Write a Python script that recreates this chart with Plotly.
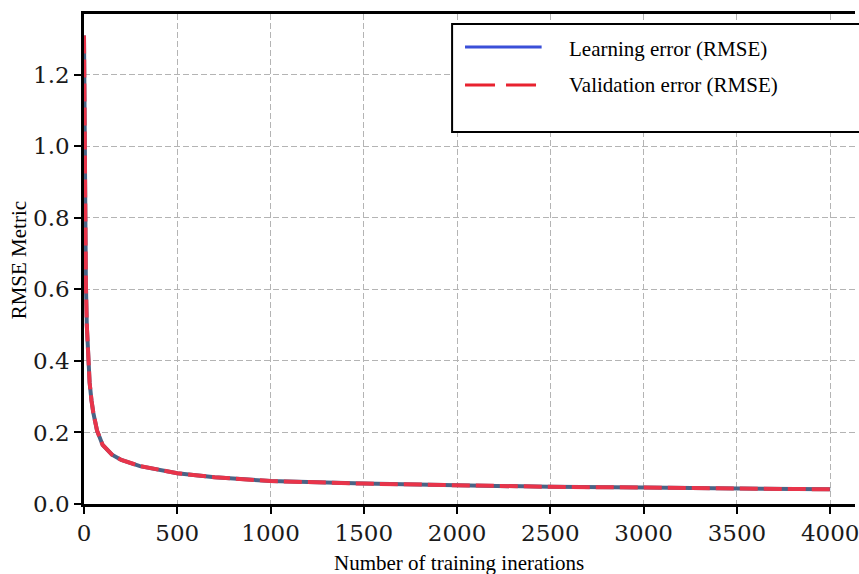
import plotly.graph_objects as go

# Data
iterations = [0, 3, 6, 10, 15, 20, 30, 40, 50, 70, 100, 150, 200, 300, 400, 500,
              700, 1000, 1500, 2000, 2500, 3000, 3500, 4000]
learning_rmse = [1.31, 1.0, 0.8, 0.62, 0.5, 0.42, 0.34, 0.29, 0.255, 0.205, 0.165,
                 0.138, 0.123, 0.106, 0.095, 0.086, 0.075, 0.064, 0.057, 0.052,
                 0.048, 0.046, 0.043, 0.041]
validation_rmse = [1.31, 1.0, 0.8, 0.62, 0.5, 0.42, 0.34, 0.29, 0.255, 0.205, 0.165,
                   0.138, 0.123, 0.106, 0.095, 0.086, 0.075, 0.064, 0.057, 0.052,
                   0.048, 0.046, 0.043, 0.041]
x_ticks = [0, 500, 1000, 1500, 2000, 2500, 3000, 3500, 4000]
y_ticks = [0.0, 0.2, 0.4, 0.6, 0.8, 1.0, 1.2]
y_tick_labels = ["0.0", "0.2", "0.4", "0.6", "0.8", "1.0", "1.2"]
series_names = ["Learning error (RMSE)", "Validation error (RMSE)"]

W, H = 859, 574
L, R, T, B = 84, 0, 14, 70
PW, PH = W - L - R, H - T - B


def px(x):
    return (x - L) / PW


def py(y):
    return (H - B - y) / PH


fig = go.Figure()
fig.add_trace(go.Scatter(x=iterations, y=learning_rmse, mode="lines",
                         line=dict(color="#4b6385", width=4),
                         name=series_names[0], showlegend=False))
fig.add_trace(go.Scatter(x=iterations, y=validation_rmse, mode="lines",
                         line=dict(color="#e8344a", width=4, dash="18px,6px"),
                         name=series_names[1], showlegend=False))

grid = dict(showgrid=True, gridcolor="#b4b4b4", gridwidth=1.3, griddash="6px,3px")
tickfont = dict(family="DejaVu Serif", size=23, color="#1a1a1a")

fig.update_xaxes(range=[0, 4133], tickvals=x_ticks, ticktext=[str(v) for v in x_ticks],
                 showline=True, linecolor="black", linewidth=2.5, mirror=True,
                 ticks="outside", ticklen=7, tickwidth=2, tickcolor="black",
                 zeroline=False, tickfont=tickfont, ticklabeloverflow="allow", **grid)
fig.update_yaxes(range=[0, 1.37], tickvals=y_ticks, ticktext=y_tick_labels,
                 showline=True, linecolor="black", linewidth=2.5, mirror=False,
                 ticks="outside", ticklen=7, tickwidth=2, tickcolor="black",
                 zeroline=False, tickfont=tickfont, **grid)

shapes = [
    # legend box
    dict(type="rect", xref="paper", yref="paper", x0=px(454), x1=px(880),
         y0=py(132), y1=py(24), line=dict(color="black", width=2),
         fillcolor="white", layer="above"),
    dict(type="line", xref="paper", yref="paper", x0=px(467), x1=px(544),
         y0=py(47), y1=py(47), line=dict(color="#3a4fd8", width=3), layer="above"),
    dict(type="line", xref="paper", yref="paper", x0=px(467), x1=px(540),
         y0=py(85), y1=py(85), line=dict(color="#e8222f", width=3, dash="30px,11px"),
         layer="above"),
]

legend_font = dict(family="Liberation Serif", size=21, color="black")
annotations = [
    dict(text=series_names[0], xref="paper", yref="paper", x=px(570), y=py(49),
         xanchor="left", yanchor="middle", showarrow=False, font=legend_font),
    dict(text=series_names[1], xref="paper", yref="paper", x=px(570), y=py(85),
         xanchor="left", yanchor="middle", showarrow=False, font=legend_font),
    dict(text="Number of training inerations", xref="paper", yref="paper",
         x=px(461), y=py(563), xanchor="center", yanchor="middle", showarrow=False,
         font=dict(family="Liberation Serif", size=21, color="black")),
    dict(text="RMSE Metric", xref="paper", yref="paper", x=px(19), y=py(260),
         xanchor="center", yanchor="middle", showarrow=False, textangle=-90,
         font=dict(family="Liberation Serif", size=21, color="black")),
]

fig.update_layout(width=W, height=H, margin=dict(l=L, r=R, t=T, b=B),
                  plot_bgcolor="white", paper_bgcolor="white", showlegend=False,
                  shapes=shapes, annotations=annotations)

fig.write_html("out.html", config={"displayModeBar": False},
               post_script="document.body.style.margin='0';"
                           "document.body.style.overflow='hidden';")
